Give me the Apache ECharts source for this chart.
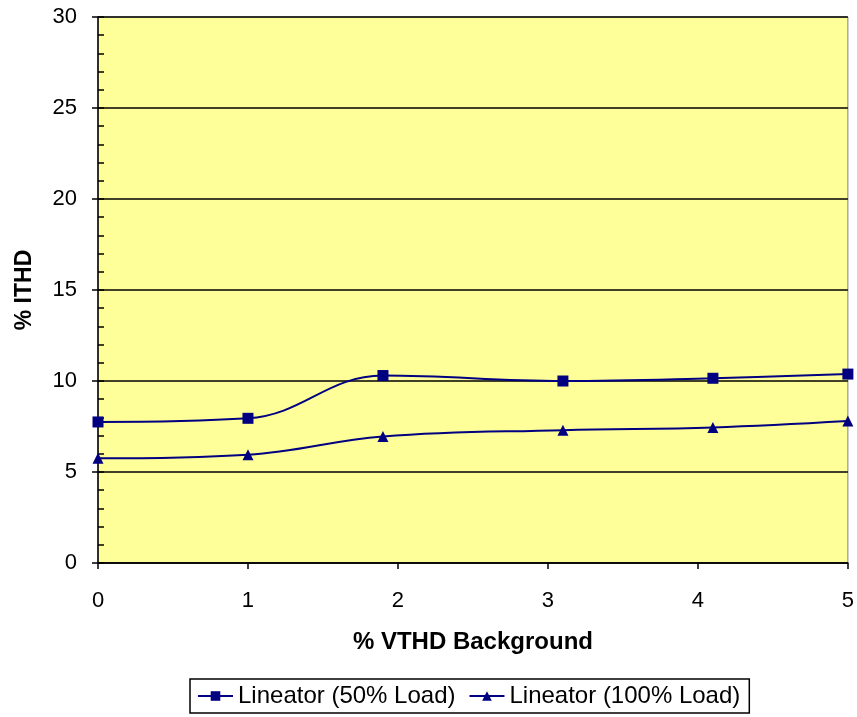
<!DOCTYPE html>
<html>
<head>
<meta charset="utf-8">
<script src="https://cdn.jsdelivr.net/npm/echarts@6/dist/echarts.min.js"></script>
<style>
  html, body { margin: 0; padding: 0; background: #ffffff; }
  #chart { width: 857px; height: 717px; }
</style>
</head>
<body>
<div id="chart"></div>
<script>
// % VTHD background (x) against % ITHD (y) for two load levels
const vthdBackground50 = [0, 1, 1.9, 3.1, 4.1, 5];
const ithd50 = [7.75, 7.95, 10.3, 10.0, 10.15, 10.38];
const vthdBackground100 = [0, 1, 1.9, 3.1, 4.1, 5];
const ithd100 = [5.75, 5.95, 6.95, 7.3, 7.45, 7.8];
const seriesNames = ['Lineator (50% Load)', 'Lineator (100% Load)'];
const xTicks = [0, 1, 2, 3, 4, 5];
const yTicks = [0, 5, 10, 15, 20, 25, 30];

const pair = (xs, ys) => xs.map((x, i) => [x, ys[i]]);
const lineColor = '#000080';
const fontFamily = '"Liberation Sans", Arial, sans-serif';

const chart = echarts.init(document.getElementById('chart'), null, { renderer: 'canvas' });

chart.setOption({
  animation: false,
  backgroundColor: '#ffffff',
  grid: {
    left: 98, right: 8, top: 17, bottom: 154,
    show: true,
    backgroundColor: '#ffff99',
    borderColor: '#808080',
    borderWidth: 1
  },
  xAxis: {
    type: 'value',
    min: xTicks[0], max: xTicks[xTicks.length - 1], interval: 1,
    name: '% VTHD Background',
    nameLocation: 'middle',
    nameGap: 67,
    nameTextStyle: { fontFamily, fontSize: 24, fontWeight: 'bold', color: '#000' },
    axisLine: { lineStyle: { color: '#000', width: 1.5 } },
    axisTick: { show: true, length: 6, lineStyle: { color: '#000', width: 1.5 } },
    axisLabel: { margin: 27, fontFamily, fontSize: 22, color: '#000' },
    splitLine: { show: false }
  },
  yAxis: [
    {
      type: 'value',
      min: yTicks[0], max: yTicks[yTicks.length - 1], interval: 5,
      name: '% ITHD',
      nameLocation: 'middle',
      nameGap: 62,
      nameRotate: 90,
      nameTextStyle: { fontFamily, fontSize: 23, fontWeight: 'bold', color: '#000' },
      axisLine: { show: true, lineStyle: { color: '#000', width: 1.5 } },
      axisTick: { show: true, length: 6, lineStyle: { color: '#000', width: 1.5 } },
      axisLabel: { margin: 21, fontFamily, fontSize: 22, color: '#000' },
      splitLine: { show: true, lineStyle: { color: '#000', width: 1.5 } }
    },
    {
      // minor ticks pointing into the plot area
      type: 'value',
      position: 'left',
      min: yTicks[0], max: yTicks[yTicks.length - 1], interval: 1,
      axisLine: { show: false },
      axisTick: { show: true, inside: true, length: 6, lineStyle: { color: '#000', width: 1.5 } },
      axisLabel: { show: false },
      splitLine: { show: false }
    }
  ],
  legend: {
    left: 190,
    top: 679,
    orient: 'horizontal',
    borderColor: '#000',
    borderWidth: 1.5,
    borderRadius: 0,
    padding: [5, 9, 5, 7],
    itemGap: 13,
    itemWidth: 35,
    itemHeight: 12,
    textStyle: { fontFamily, fontSize: 24, color: '#000' },
    data: [seriesNames[0], seriesNames[1]]
  },
  series: [
    {
      name: seriesNames[0],
      type: 'line',
      data: pair(vthdBackground50, ithd50),
      smooth: 0.4,
      symbol: 'rect',
      symbolSize: 11,
      lineStyle: { color: lineColor, width: 2 },
      itemStyle: { color: lineColor },
      z: 5
    },
    {
      name: seriesNames[1],
      type: 'line',
      data: pair(vthdBackground100, ithd100),
      smooth: 0.4,
      symbol: 'triangle',
      symbolSize: 11,
      lineStyle: { color: lineColor, width: 2 },
      itemStyle: { color: lineColor },
      z: 5
    }
  ]
});
</script>
</body>
</html>
